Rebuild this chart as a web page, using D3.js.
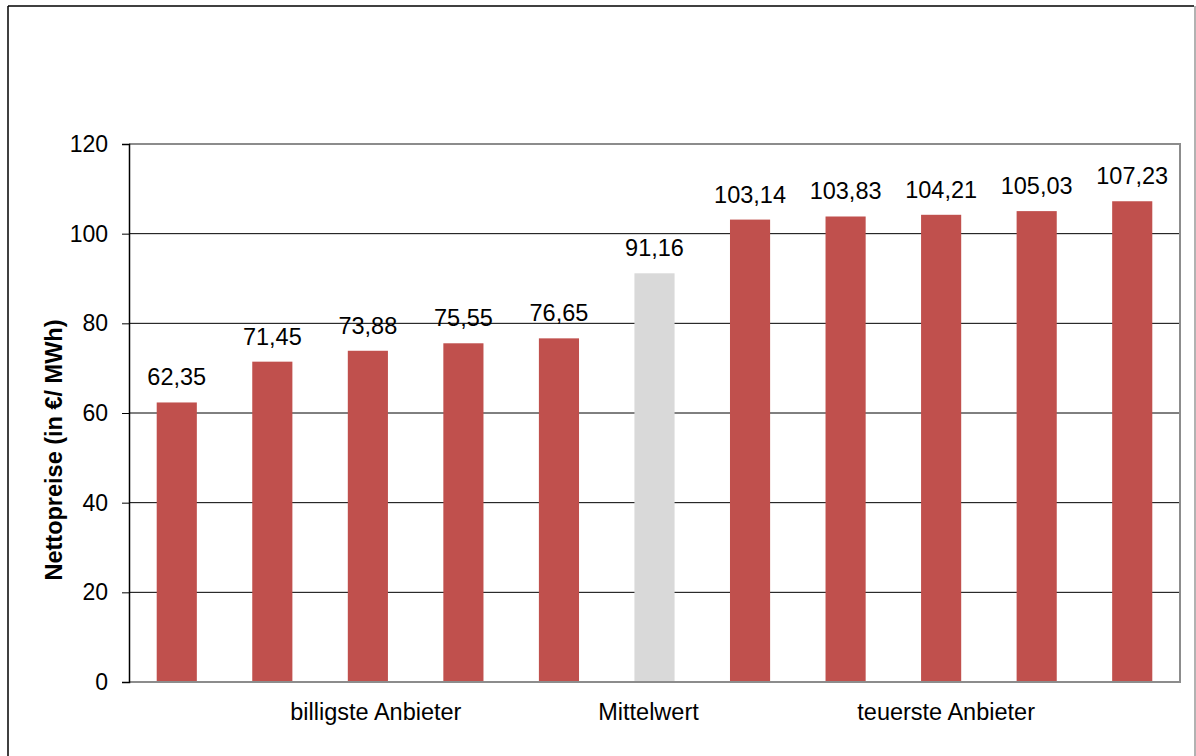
<!DOCTYPE html>
<html>
<head>
<meta charset="utf-8">
<script src="https://cdn.jsdelivr.net/npm/d3@7"></script>
<style>
  html, body { margin: 0; padding: 0; background: #fff; }
  svg text { font-family: "Liberation Sans", Arial, sans-serif; fill: #000; }
</style>
</head>
<body>
<svg id="chart" width="1196" height="756"></svg>
<script>
// Net prices per provider (EUR / MWh)
const providers = ["p1", "p2", "p3", "p4", "p5", "mean", "p7", "p8", "p9", "p10", "p11"];
const prices = [62.35, 71.45, 73.88, 75.55, 76.65, 91.16, 103.14, 103.83, 104.21, 105.03, 107.23];
const groupLabels = ["", "", "billigste Anbieter", "", "", "Mittelwert", "", "", "teuerste Anbieter", "", ""];
const yTicks = [0, 20, 40, 60, 80, 100, 120];
const yTitle = "Nettopreise (in €/ MWh)";

const svg = d3.select("#chart");
const margin = { left: 129, right: 1180, top: 144, bottom: 682 };

// outer frame
svg.append("line").attr("x1", 8).attr("x2", 8).attr("y1", 6).attr("y2", 760)
  .attr("stroke", "#000").attr("stroke-width", 1.5);
svg.append("line").attr("x1", 8).attr("x2", 1194).attr("y1", 6).attr("y2", 6)
  .attr("stroke", "#000").attr("stroke-width", 1.5);
svg.append("line").attr("x1", 1195).attr("x2", 1195).attr("y1", 6).attr("y2", 760)
  .attr("stroke", "#999").attr("stroke-width", 1.5);

const x = d3.scaleBand().domain(providers)
  .range([margin.left, margin.right]).paddingInner(0.58).paddingOuter(0.29);
const y = d3.scaleLinear().domain([0, 120]).range([margin.bottom, margin.top]);

// horizontal gridlines
svg.append("g").selectAll("line")
  .data(yTicks.filter(t => t > 0 && t < 120))
  .join("line")
  .attr("x1", margin.left).attr("x2", margin.right)
  .attr("y1", d => y(d)).attr("y2", d => y(d))
  .attr("stroke", "#000").attr("stroke-width", 1);

// bars
svg.append("g").selectAll("rect")
  .data(prices)
  .join("rect")
  .attr("x", (d, i) => x(providers[i]))
  .attr("width", x.bandwidth())
  .attr("y", d => y(d))
  .attr("height", d => y(0) - y(d))
  .attr("fill", (d, i) => providers[i] === "mean" ? "#D9D9D9" : "#C0504D");

// plot area border (top, right, bottom)
svg.append("path")
  .attr("d", `M${margin.left},${margin.top}H${margin.right}V${margin.bottom}H${margin.left}`)
  .attr("fill", "none").attr("stroke", "#8c8c8c").attr("stroke-width", 2);

// y axis
const yAxis = d3.axisLeft(y).tickValues(yTicks).tickSize(7).tickPadding(14)
  .tickFormat(d3.format("d"));
const gy = svg.append("g").attr("transform", `translate(${margin.left},0)`).call(yAxis);
gy.select(".domain").attr("stroke", "#000").attr("stroke-width", 1.5);
gy.selectAll(".tick line").attr("stroke", "#000").attr("stroke-width", 1);
gy.selectAll(".tick text").style("font-size", "23px")
  .style("font-family", "'Liberation Sans', Arial, sans-serif").attr("fill", "#000");

// value labels
const fmt = v => d3.format(".2f")(v).replace(".", ",");
svg.append("g").selectAll("text")
  .data(prices)
  .join("text")
  .attr("x", (d, i) => x(providers[i]) + x.bandwidth() / 2)
  .attr("y", d => y(d) - 17)
  .attr("text-anchor", "middle")
  .style("font-size", "23.5px")
  .text(d => fmt(d));

// group labels under the axis, nudged slightly from the band centre
const labelNudge = { "billigste Anbieter": 8, "Mittelwert": -6, "teuerste Anbieter": 5 };
svg.append("g").selectAll("text")
  .data(groupLabels)
  .join("text")
  .attr("x", (d, i) => x(providers[i]) + x.bandwidth() / 2 + (labelNudge[d] || 0))
  .attr("y", 720)
  .attr("text-anchor", "middle")
  .style("font-size", "23.5px")
  .text(d => d);

// y axis title
svg.append("text")
  .attr("transform", `translate(62,450) rotate(-90)`)
  .attr("text-anchor", "middle")
  .style("font-size", "23.5px")
  .style("font-weight", "bold")
  .text(yTitle);
</script>
</body>
</html>
